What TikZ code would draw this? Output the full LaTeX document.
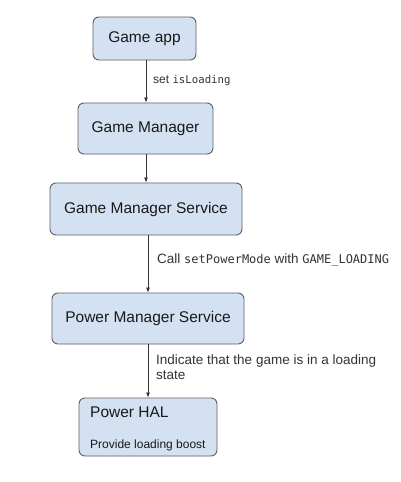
\documentclass[tikz,border=0pt]{standalone}
\usepackage{fontspec}
\setmainfont{Liberation Sans}
\newfontfamily\codefont{DejaVu Sans Mono}
\usetikzlibrary{arrows.meta}
\definecolor{boxfill}{HTML}{D4E1F2}
\definecolor{boxline}{HTML}{5F5F5F}
\definecolor{labtext}{HTML}{333333}
\begin{document}
\begin{tikzpicture}[x=1pt,y=-1pt,
  box/.style={draw=boxline, fill=boxfill, line width=0.9pt, rounded corners=6pt,
    inner sep=0pt, font=\fontsize{15.5}{18}\selectfont, text=black!90},
  arr/.style={draw=black!80, line width=0.8pt, -{Latex[length=5pt,width=4pt]}},
  lab/.style={anchor=west, inner sep=0pt, text=labtext, font=\fontsize{13.5}{15}\selectfont}
]
\useasboundingbox (0,0) rectangle (400,482);
\fill[white] (0,0) rectangle (400,482);

\node[box, minimum width=103pt, minimum height=43pt] (b1) at (144.5,38.5) {Game app};
\node[box, minimum width=135pt, minimum height=51pt] (b2) at (145.5,128.5) {Game Manager};
\node[box, minimum width=192pt, minimum height=52pt] (b3) at (146,209) {Game Manager Service};
\node[box, minimum width=192pt, minimum height=51pt] (b4) at (148,318.5) {Power Manager Service};
\node[box, minimum width=138pt, minimum height=58pt] (b5) at (148,427) {};
\node[anchor=west, inner sep=0pt, font=\fontsize{15.5}{18}\selectfont, text=black!90] (t5) at (90,412) {Power HAL};
\node[anchor=west, inner sep=0pt, font=\fontsize{12}{14}\selectfont, text=black!90] (s5) at (90,445) {Provide loading boost};

\draw[arr] (b1.south -| 146,0) -- (b2.north -| 146,0);
\draw[arr] (b2.south -| 146,0) -- (b3.north -| 146,0);
\draw[arr] (b3.south -| 148,0) -- (b4.north -| 148,0);
\draw[arr] (b4.south -| 148,0) -- (b5.north -| 148,0);

\node[lab, font=\fontsize{12}{14}\selectfont] (l1) at (153,81) {set {\codefont\fontsize{10.7}{13}\selectfont isLoading}};
\node[lab] (l2) at (157,260) {Call {\codefont\fontsize{12}{14}\selectfont setPowerMode} with {\codefont\fontsize{12}{14}\selectfont GAME\_LOADING}};
\node[lab, align=left, anchor=north west] (l3) at (156,355) {Indicate that the game is in a loading\\state};
\end{tikzpicture}
\end{document}
